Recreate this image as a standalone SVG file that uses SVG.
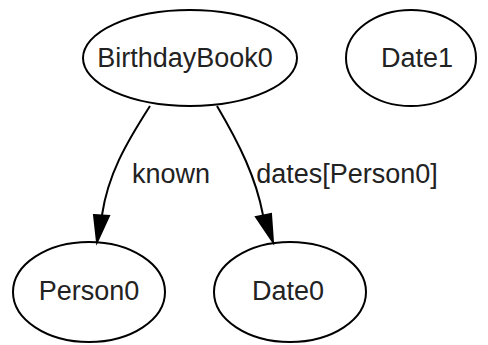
<svg xmlns="http://www.w3.org/2000/svg" width="488" height="345" viewBox="0 0 488 345">
<style>
.n ellipse{fill:none;stroke:#000;stroke-width:2}
text{font-family:"Liberation Sans",Arial,sans-serif;font-size:27px;fill:#222;text-anchor:middle}
.e path{fill:none;stroke:#000;stroke-width:2}
.e polygon{fill:#000;stroke:#000;stroke-width:2}
</style>
<rect width="488" height="345" fill="#fff"/>
<g id="BirthdayBook0" class="n"><ellipse cx="190" cy="58" rx="107" ry="48"/><text x="185" y="67">BirthdayBook0</text></g>
<g id="Date1" class="n"><ellipse cx="411" cy="58" rx="65" ry="48"/><text x="417" y="67">Date1</text></g>
<g id="Person0" class="n"><ellipse cx="89" cy="292" rx="76" ry="50"/><text x="89" y="300">Person0</text></g>
<g id="Date0" class="n"><ellipse cx="290" cy="292" rx="76" ry="50"/><text x="288" y="300">Date0</text></g>
<g id="edges" class="e">
<path d="M150,106 C125,145 108,175 102,215"/>
<polygon points="94,215 109,216 97,242"/>
<text x="171" y="183">known</text>
<path d="M217,106 C240,145 256,178 263,215"/>
<polygon points="256,217 271,214 273,242"/>
<text x="347" y="183">dates[Person0]</text>
</g>
</svg>
